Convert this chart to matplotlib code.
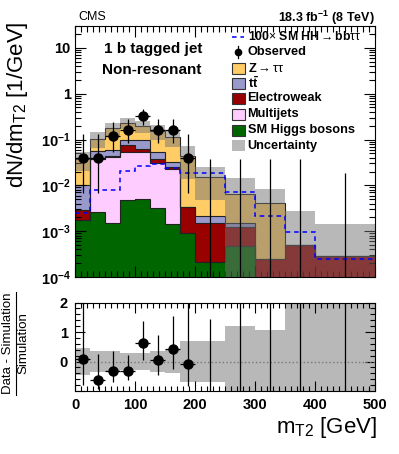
import numpy as np
import matplotlib
matplotlib.use('Agg')
import matplotlib.pyplot as plt
from matplotlib.patches import Rectangle
from matplotlib.lines import Line2D
from matplotlib.ticker import FixedLocator, MultipleLocator, NullFormatter

plt.rcParams['font.family'] = ['Liberation Sans', 'DejaVu Sans']
plt.rcParams['mathtext.fontset'] = 'custom'
plt.rcParams['mathtext.rm'] = 'Liberation Sans'
plt.rcParams['mathtext.bf'] = 'Liberation Sans:bold'
plt.rcParams['mathtext.it'] = 'Liberation Sans:italic'

# bins in GeV
edges = np.array([0, 25, 50, 75, 100, 125, 150, 175, 200, 250, 300, 350, 400, 500])

# stack components (1/GeV), bottom to top
higgs = np.array([1.75e-3, 2.6e-3, 1.5e-3, 4.8e-3, 5.05e-3, 3.25e-3, 1.4e-3, 9.3e-4, 2.1e-4, 4.8e-4, 0, 0, 0])
multijet = np.array([0, 0.0346, 0.0396, 0.048, 0.0477, 0.0271, 0.0211, 0, 0, 0, 0, 0, 0])
ewk = np.array([1.15e-3, 1.2e-3, 2.8e-3, 0.0234, 8.6e-3, 7.3e-3, 3.1e-3, 2.5e-3, 1.32e-3, 7.7e-4, 2.43e-4, 5.0e-4, 2.83e-4])
ttbar = np.array([7.3e-3, 0.018, 0.0154, 0.0218, 0.0366, 0.0168, 0.0073, 0, 6.5e-4, 2.4e-4, 0, 0, 0])
ztt = np.array([0.0268, 0.0486, 0.1147, 0.134, 0.100, 0.0965, 0.080, 0.0406, 0.0128, 4.91e-3, 3.82e-3, 0, 0])
hh100 = np.array([2.46e-3, 7.9e-3, 7.9e-3, 0.0209, 0.0269, 0.0293, 0.0236, 0.0182, 0.0189, 7.06e-3, 2.15e-3, 9.5e-4, 2.47e-4])
unc_rel = np.array([0.45, 0.37, 0.34, 0.28, 0.30, 0.34, 0.40, 0.68, 0.68, 1.22, 1.07, 4.5, 4.0])

# observed (1/GeV) with poisson bounds
obs = np.array([0.04, 0.04, 0.12, 0.16, 0.32, 0.16, 0.16, 0.04, 0, 0, 0, 0, 0])
obs_lo = np.array([0.0069, 0.0069, 0.0547, 0.0834, 0.208, 0.0834, 0.0834, 0.0069, 0, 0, 0, 0, 0])
obs_hi = np.array([0.132, 0.132, 0.237, 0.2865, 0.472, 0.2865, 0.2865, 0.132, 0.0368, 0.0368, 0.0368, 0.0368, 0.0184])

layers = [(higgs, '#006600'), (multijet, '#FFCCFF'), (ewk, '#990000'),
          (ttbar, '#9999CC'), (ztt, '#FFCC66')]
unc_color = '#737373'

centers = 0.5 * (edges[1:] + edges[:-1])
half = 0.5 * (edges[1:] - edges[:-1])
has = obs > 0

W, H = 399, 454
fig = plt.figure(figsize=(W / 100, H / 100), dpi=100)
ax = fig.add_axes([75 / W, (H - 277) / H, 300 / W, 251 / H])
ax2 = fig.add_axes([75 / W, (H - 391) / H, 300 / W, 88.5 / H])

## main panel
bottom = np.full(len(centers), 1e-6)
for vals, col in layers:
    top = bottom + vals
    ax.stairs(top, edges, baseline=bottom, fill=True, color=col, lw=0, zorder=1)
    ax.stairs(top, edges, baseline=None, color='#222222', lw=0.8, zorder=1.5)
    bottom = top
total = bottom - 1e-6

band_lo = np.clip(total * (1 - unc_rel), 1e-6, None)
band_hi = total * (1 + unc_rel)
ax.stairs(band_hi, edges, baseline=band_lo, fill=True, color=unc_color, alpha=0.5, lw=0, zorder=2)
ax.stairs(hh100, edges, baseline=None, color='blue', ls=(0, (3, 2.5)), lw=1.1, zorder=3)

ax.errorbar(centers[has], obs[has], xerr=half[has],
            yerr=[obs[has] - obs_lo[has], obs_hi[has] - obs[has]],
            fmt='o', color='k', ms=6.5, elinewidth=0.9, capsize=0, zorder=4)
ax.vlines(centers[~has], 1e-6, obs_hi[~has], color='k', lw=0.9, zorder=4)

ax.set_xlim(0, 500)
ax.set_yscale('log')
ax.set_ylim(1e-4, 30)
ax.set_yticks([1e-4, 1e-3, 1e-2, 1e-1, 1, 10])
ax.set_yticklabels([r'$\mathbf{10^{-4}}$', r'$\mathbf{10^{-3}}$', r'$\mathbf{10^{-2}}$',
                    r'$\mathbf{10^{-1}}$', '1', '10'], fontsize=10.5, fontweight='bold')
ax.yaxis.set_minor_locator(FixedLocator([m * 10.0 ** e for e in range(-4, 2) for m in range(2, 10)]))
ax.yaxis.set_minor_formatter(NullFormatter())
ax.xaxis.set_major_locator(MultipleLocator(100))
ax.xaxis.set_minor_locator(MultipleLocator(10))
ax.set_xticklabels([])
ax.tick_params(which='both', direction='in', top=True, right=True, width=0.8)
ax.tick_params(which='major', length=8, pad=3)
ax.tick_params(which='minor', length=4)

# legend
def frac(px, py):
    return ((px - 75) / 300, (277 - py) / 251)

rows = [36.7, 52.3, 68.3, 83.3, 98.3, 114.3, 130, 145.7]
labels = [r'100$\times$ SM HH$\rightarrow$bb$\mathrm{\tau\tau}$', 'Observed', r'Z$\rightarrow\mathrm{\tau\tau}$',
          r'$\mathbf{t\bar{t}}$', 'Electroweak', 'Multijets', 'SM Higgs bosons', 'Uncertainty']
for i, (py, lab) in enumerate(zip(rows, labels)):
    tx, ty = frac(247.5, py)
    ax.text(tx, ty, lab, transform=ax.transAxes, fontsize=8.8 if i == 0 else 9.2, fontweight='bold',
            ha='left', va='center', zorder=6)
x0, y0 = frac(232, rows[0])
x1, _ = frac(244, rows[0])
ax.add_line(Line2D([x0, x1], [y0, y0], transform=ax.transAxes, color='blue',
                   ls=(0, (3, 2.5)), lw=1.1, clip_on=False))
mx, my = frac(238, rows[1])
_, myt = frac(238, rows[1] - 6)
_, myb = frac(238, rows[1] + 6)
ax.add_line(Line2D([mx, mx], [myb, myt], transform=ax.transAxes, color='k', lw=0.9))
ax.plot([mx], [my], 'o', color='k', ms=4.5, transform=ax.transAxes)
box_cols = ['#FFCC66', '#9999CC', '#990000', '#FFCCFF', '#006600']
for py, col in zip(rows[2:7], box_cols):
    bx, by = frac(232, py + 5.5)
    ax.add_patch(Rectangle((bx, by), 13 / 300, 11 / 251, transform=ax.transAxes, facecolor=col,
                           edgecolor='#333333', lw=0.8, zorder=6))
bx, by = frac(232, rows[7] + 5.5)
ax.add_patch(Rectangle((bx, by), 13 / 300, 11 / 251, transform=ax.transAxes,
                       facecolor=unc_color, alpha=0.5, lw=0, zorder=6))

tx, ty = frac(104, 49)
ax.text(tx, ty, '1 b tagged jet', transform=ax.transAxes, fontsize=11, fontweight='bold', va='center')
tx, ty = frac(102, 70)
ax.text(tx, ty, 'Non-resonant', transform=ax.transAxes, fontsize=11, fontweight='bold', va='center')

fig.text(78 / W, 1 - 17 / H, 'CMS', fontsize=9, va='center', ha='left')
fig.text(375 / W, 1 - 18 / H, r'18.3 fb$^{\mathbf{-1}}$ (8 TeV)', fontsize=9, fontweight='bold',
         va='center', ha='right')
fig.text(18 / W, 1 - 21 / H, r'dN/dm$_{\mathrm{T2}}$ [1/GeV]', fontsize=16, rotation=90,
         ha='center', va='top')

## ratio panel
ratio = obs / total - 1
ax2.stairs(unc_rel, edges, baseline=-unc_rel, fill=True, color=unc_color, alpha=0.5, lw=0, zorder=1)
ax2.axhline(0, color='#777777', ls=':', lw=1, zorder=2)
ax2.errorbar(centers[has], ratio[has], xerr=half[has],
             yerr=[(obs[has] - obs_lo[has]) / total[has], (obs_hi[has] - obs[has]) / total[has]],
             fmt='o', color='k', ms=6.5, elinewidth=0.9, capsize=0, zorder=4)
ax2.vlines(centers[~has], -1, obs_hi[~has] / total[~has] - 1, color='k', lw=0.9, zorder=4)
ax2.set_xlim(0, 500)
ax2.set_ylim(-1, 2)
ax2.set_yticks([-1, 0, 1, 2])
ax2.set_yticklabels(['', '0', '1', '2'], fontsize=10.5, fontweight='bold')
ax2.yaxis.set_minor_locator(MultipleLocator(0.2))
ax2.set_xticks([0, 100, 200, 300, 400, 500])
ax2.set_xticklabels(['0', '100', '200', '300', '400', '500'], fontsize=10.5, fontweight='bold')
ax2.xaxis.set_minor_locator(MultipleLocator(10))
ax2.tick_params(which='both', direction='in', top=True, right=True, width=0.8)
ax2.tick_params(which='major', length=7, pad=5)
ax2.tick_params(which='minor', length=3.5)

fig.text(377 / W, 1 - 427 / H, r'm$_{\mathrm{T2}}$ [GeV]', fontsize=16, ha='right', va='center')
fig.text(8.5 / W, 1 - 343 / H, 'Data - Simulation', fontsize=9.5, rotation=90, ha='center', va='center')
fig.add_artist(Line2D([15.5 / W, 15.5 / W], [1 - 292 / H, 1 - 395 / H], color='k', lw=0.8))
fig.text(23 / W, 1 - 343 / H, 'Simulation', fontsize=9.5, rotation=90, ha='center', va='center')

fig.savefig('out.png', dpi=100)
